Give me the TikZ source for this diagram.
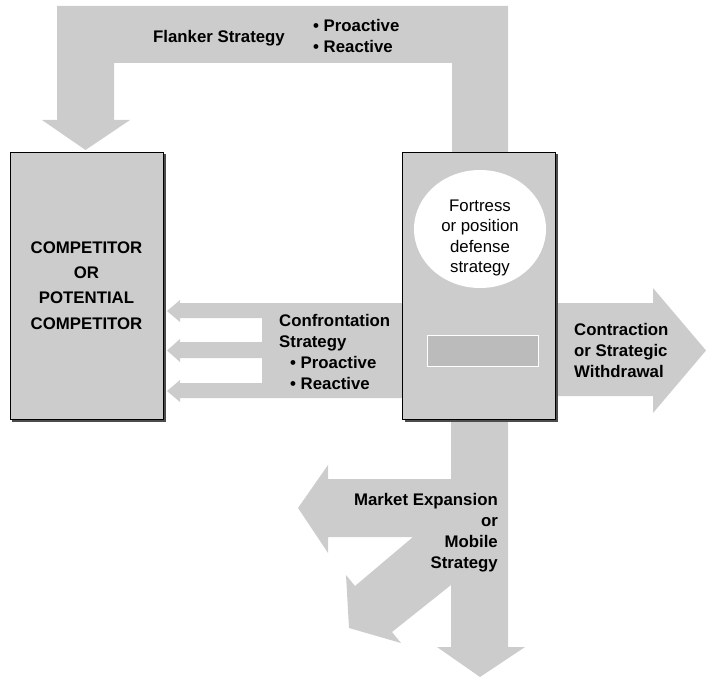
\documentclass[tikz,border=0pt]{standalone}
\usepackage{fontspec}
\setmainfont{Liberation Sans}
\usetikzlibrary{shapes.geometric, shadows, calc}

\definecolor{bandgray}{HTML}{CCCCCC}
\definecolor{slotgray}{HTML}{BBBBBB}

\begin{document}
\begin{tikzpicture}[x=1bp, y=-1bp]
% Styles
\tikzstyle{band} = [fill=bandgray]
\tikzstyle{firm} = [rectangle, draw=black, fill=bandgray, minimum width=153bp, minimum height=267bp, align=center, inner sep=0pt, general shadow={fill=black!70, shadow xshift=2.5bp, shadow yshift=-2.5bp}]
\tikzstyle{label} = [inner sep=0pt, font=\fontsize{16.8bp}{21bp}\selectfont\bfseries]
\tikzstyle{plain} = [inner sep=0pt, align=center, font=\fontsize{16.8bp}{20.5bp}\selectfont]

\useasboundingbox (0,0) rectangle (706,681);

% block arrows
\fill[band] (452,152) -- (452,63) -- (114,63) -- (114,120) -- (130,120) -- (85.5,150)
  -- (42,120) -- (57,120) -- (57,6) -- (508,6) -- (508,152) -- cycle;
\fill[band] (402,303) -- (180,303) -- (180,300) -- (167,311) -- (180,322) -- (180,318)
  -- (262,318) -- (262,342) -- (180,342) -- (180,339) -- (167,350.5) -- (180,362) -- (180,358)
  -- (262,358) -- (262,383) -- (180,383) -- (180,380) -- (167,391) -- (180,402) -- (180,398)
  -- (402,398) -- cycle;
\fill[band] (556,303) -- (653,303) -- (653,288) -- (706,350.5) -- (653,413) -- (653,396)
  -- (556,396) -- cycle;
\fill[band] (451,421) -- (451,479) -- (328,479) -- (328,465) -- (298,508) -- (328,553)
  -- (328,537) -- (413,537) -- (355,586) -- (346,575) -- (349,628) -- (401,643) -- (392,632)
  -- (451,585) -- (451,647) -- (437,647) -- (480,677) -- (525,647) -- (508,647)
  -- (508,421) -- cycle;

% boxes
\node (competitor) [firm, label, font=\fontsize{16.8bp}{25.2bp}\selectfont\bfseries] at (86.5,285.5) {COMPETITOR\\OR\\POTENTIAL\\COMPETITOR};
\node (defender) [firm] at (479,285.5) {};
\node (fortress) [ellipse, fill=white, minimum width=132bp, minimum height=118bp, inner sep=0pt] at (480,229) {};
\node (fortresstext) [plain] at (480,238) {Fortress\\or position\\defense\\strategy};
\node (slot) [rectangle, draw=white, fill=slotgray, minimum width=111bp, minimum height=31bp, inner sep=0pt] at (482.5,350.5) {};

% labels
\node (flanker) [label, anchor=west] at (153,38) {Flanker Strategy};
\node (flankerkind) [label, anchor=west, align=left] at (313,36) {\textbullet\ Proactive\\\textbullet\ Reactive};
\node (confront) [label, anchor=west, align=left] at (279,352) {Confrontation\\Strategy\\\hspace{11bp}\textbullet\ Proactive\\\hspace{11bp}\textbullet\ Reactive};
\node (contract) [label, anchor=west, align=left] at (574,350) {Contraction\\or Strategic\\Withdrawal};
\node (expand) [label, anchor=east, align=right] at (498,533) {Market Expansion\\or\\Mobile\\Strategy};

\end{tikzpicture}
\end{document}
